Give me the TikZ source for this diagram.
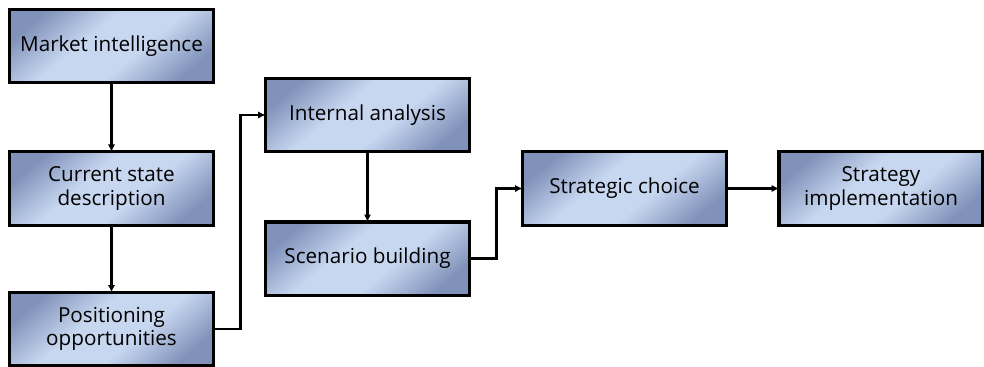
\documentclass[tikz,border=0pt]{standalone}
\usepackage{fontspec}
\setmainfont{Open Sans}
\usetikzlibrary{arrows.meta}
\definecolor{boxdark}{RGB}{128,146,186}
\definecolor{boxlight}{RGB}{200,215,240}
% dark corners, broad light band through the middle
\pgfdeclareverticalshading{stageshade}{100bp}{color(0bp)=(boxdark); color(24bp)=(boxdark);
  color(42bp)=(boxlight); color(58bp)=(boxlight); color(76bp)=(boxdark); color(100bp)=(boxdark)}
\begin{document}
\begin{tikzpicture}[x=0.75pt,y=-0.75pt,
  stagebox/.style={draw=black, line width=2.5pt, inner sep=0pt, outer sep=0pt,
    minimum width=153pt, minimum height=55pt, align=center,
    shading=stageshade, shading angle=40,
    font=\fontsize{15.5}{17.5}\selectfont},
  flow/.style={line width=1.8pt, -{Latex[length=5.5pt,width=5.5pt]}}]
\useasboundingbox (0,0) rectangle (984,367);
\node[stagebox] (mi) at (111.5,46) {Market intelligence};
\node[stagebox] (cs) at (111.5,188.5) {Current state\\description};
\node[stagebox] (po) at (111.5,329) {Positioning\\opportunities};
\node[stagebox] (ia) at (367.5,115) {Internal analysis};
\node[stagebox] (sb) at (367.5,258.5) {Scenario building};
\node[stagebox] (sc) at (624.5,188.5) {Strategic choice};
\node[stagebox] (si) at (881,188.5) {Strategy\\implementation};
\draw[flow] (mi) -- (cs);
\draw[flow] (cs) -- (po);
\draw[flow] (po.east) -- ++(27,0) |- (ia.west);
\draw[flow] (ia) -- (sb);
\draw[flow] (sb.east) -- ++(27,0) |- (sc.west);
\draw[flow] (sc) -- (si);
\end{tikzpicture}
\end{document}
